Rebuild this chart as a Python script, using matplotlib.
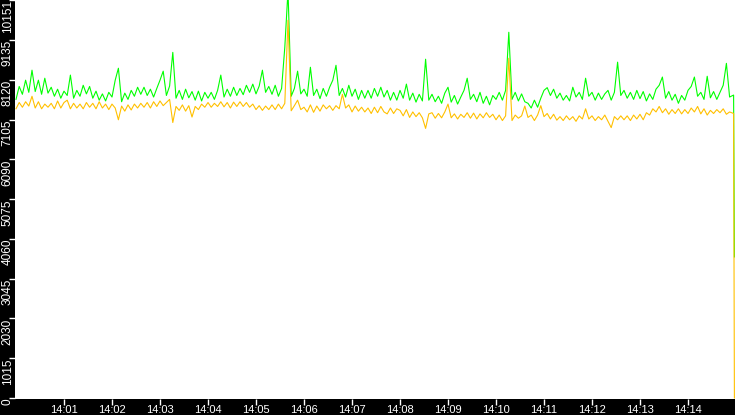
import datetime as dt
import matplotlib
matplotlib.use("Agg")
import matplotlib.pyplot as plt
import matplotlib.dates as mdates

start = dt.datetime(2024, 1, 1, 14, 0, 0)
# seconds after 14:00:00 of each reading (4 s sampling, last two at the cut-off)
sample_s = [4 * i for i in range(224)] + [897, 898]

green = [
    7620, 7950, 7750, 8110, 7800, 8365, 7820, 8110, 7750, 8160,
    7780, 7930, 7700, 7880, 7650, 7830, 7720, 8240, 7650, 7850,
    7700, 7980, 7760, 7950, 7650, 7830, 7600, 7760, 7580, 7800,
    7680, 8110, 8415, 7560, 7780, 7620, 7850, 7700, 7930, 7750,
    7930, 7720, 7880, 7680, 7900, 8110, 8340, 7720, 7960, 8820,
    7650, 7850, 7620, 7880, 7660, 7820, 7600, 7830, 7580, 7800,
    7650, 7800, 7620, 7850, 8240, 7680, 7880, 7700, 7930, 7720,
    7900, 7740, 7980, 7800, 8010, 7760, 7960, 8365, 7800, 7950,
    7750, 7980, 7700, 7900, 8950, 10400, 7700, 7900, 8340, 7760,
    7880, 7700, 8440, 7720, 7880, 7640, 7900, 7700, 7930, 8110,
    8490, 7720, 7900, 7680, 7980, 7700, 7880, 7620, 7850, 7650,
    7850, 7650, 7900, 7700, 7930, 7680, 7850, 7600, 7800, 7600,
    7850, 7650, 8010, 7600, 7780, 7550, 7750, 7580, 8645, 7600,
    7750, 7560, 7700, 7520, 7780, 7930, 7550, 7720, 7500, 7680,
    7850, 8160, 7620, 7750, 7560, 7800, 7520, 7700, 7480, 7720,
    7620, 7800, 7600, 7850, 9333, 7620, 7800, 7580, 7760, 7560,
    7520, 7400, 7600, 7420, 7650, 7850, 7920, 7720, 7880, 7650,
    7780, 7600, 7720, 7580, 7930, 7680, 7800, 7620, 8160, 7700,
    7800, 7600, 7780, 7620, 7760, 7850, 7600, 7800, 8570, 7720,
    7850, 7650, 7800, 7620, 7850, 7640, 7820, 7580, 7760, 7620,
    7880, 7980, 8190, 7650, 7820, 7600, 7750, 7520, 7720, 7600,
    7850, 7950, 8190, 7700, 7800, 7620, 8210, 7660, 7820, 7620,
    7800, 7980, 8540, 7680, 7730, 3600,
]

orange = [
    7380, 7540, 7420, 7560, 7450, 7700, 7400, 7560, 7380, 7500,
    7420, 7520, 7380, 7580, 7400, 7540, 7600, 7380, 7520, 7400,
    7500, 7380, 7540, 7420, 7520, 7380, 7560, 7400, 7500, 7360,
    7500, 7400, 7100, 7450, 7320, 7480, 7350, 7500, 7400, 7520,
    7420, 7540, 7400, 7560, 7440, 7580, 7460, 7540, 7620, 7030,
    7440, 7340, 7480, 7320, 7460, 7170, 7440, 7360, 7500, 7420,
    7540, 7420, 7520, 7440, 7560, 7430, 7540, 7400, 7550, 7440,
    7560, 7440, 7540, 7420, 7500, 7360, 7460, 7340, 7450, 7360,
    7480, 7360, 7500, 7380, 7520, 9640, 7330, 7460, 7600, 7360,
    7420, 7300, 7480, 7290, 7450, 7320, 7480, 7380, 7460, 7340,
    7460, 7380, 7750, 7400, 7480, 7300, 7450, 7320, 7420, 7300,
    7400, 7260, 7420, 7280, 7440, 7300, 7250, 7400, 7260, 7380,
    7340, 7200, 7360, 7160, 7300, 7180, 7280, 7150, 6880, 7250,
    7280, 7140, 7260, 7150, 7300, 7500, 7150, 7250, 7120, 7240,
    7160, 7280, 7140, 7270, 7120, 7250, 7150, 7280, 7160, 7240,
    7100, 7220, 7080, 7200, 8670, 7080, 7220, 7140, 7200, 7450,
    7160, 7220, 7080, 7220, 7460, 7180, 7260, 7120, 7240, 7090,
    7180, 7080, 7200, 7100, 7180, 7060, 7200, 7120, 7380, 7120,
    7200, 7080, 7180, 7100, 7220, 7060, 6900, 7180, 7100, 7200,
    7100, 7200, 7080, 7220, 7120, 7240, 7100, 7280, 7220, 7380,
    7300, 7440, 7280, 7380, 7240, 7360, 7260, 7380, 7250, 7360,
    7260, 7400, 7300, 7440, 7250, 7380, 7220, 7340, 7260, 7360,
    7280, 7380, 7240, 7300, 7260, 0,
]

ytick_labels = ["0", "1015", "2030", "3045", "4060", "5075",
                "6090", "7105", "8120", "9135", "10151"]
xtick_minutes = list(range(1, 15))

times = [start + dt.timedelta(seconds=s) for s in sample_s]

plt.rcParams['font.family'] = ['Liberation Sans', 'DejaVu Sans']

fig = plt.figure(figsize=(7.35, 4.15), dpi=100, facecolor='black')
ax = fig.add_axes([15 / 735, 16 / 415, 720 / 735, 399 / 415])
ax.set_facecolor('white')

ax.plot(times[:len(green)], green, color='#00ff00', linewidth=0.8)
ax.plot(times[:len(orange)], orange, color='#ffc000', linewidth=0.8)

ax.set_xlim(start - dt.timedelta(seconds=1.25), start + dt.timedelta(seconds=898.75))
ax.set_ylim(-25, 10156)

yt = [1015.1 * i for i in range(len(ytick_labels))]
ax.set_yticks(yt)
ax.set_yticklabels(ytick_labels, rotation=90, va='top', fontsize=8.5, color='white')
ax.set_xticks([start + dt.timedelta(minutes=m) for m in xtick_minutes])
ax.xaxis.set_major_formatter(mdates.DateFormatter('%H:%M'))
for lab in ax.get_xticklabels():
    lab.set_fontsize(8)
    lab.set_color('white')

ax.tick_params(axis='y', colors='white', length=4, width=1, pad=-3)
ax.tick_params(axis='x', colors='white', length=4, width=1, pad=0.5)
for s in ax.spines.values():
    s.set_visible(False)

fig.savefig('out.png', dpi=100, facecolor='black')
